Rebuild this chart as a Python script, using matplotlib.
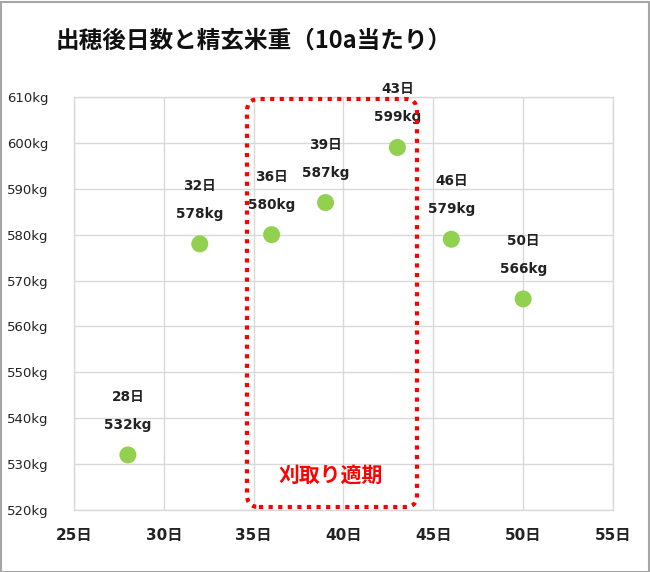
import matplotlib
matplotlib.use("Agg")
import matplotlib.pyplot as plt
from matplotlib.patches import FancyBboxPatch, Rectangle
from matplotlib.ticker import MultipleLocator, FuncFormatter

plt.rcParams['font.family'] = ['DejaVu Sans', 'Noto Sans CJK JP']

days = [28, 32, 36, 39, 43, 46, 50]
weights = [532, 578, 580, 587, 599, 579, 566]
title = "出穂後日数と精玄米重（10a当たり）"
box_label = "刈取り適期"

W, H = 650, 572
fig = plt.figure(figsize=(W / 100, H / 100), dpi=100)
ax = fig.add_axes([74 / W, 1 - 510 / H, (613 - 74) / W, (510 - 97) / H])

grid_c = '#D9D9D9'
ax.set_xlim(25, 55)
ax.set_ylim(520, 610)
ax.xaxis.set_major_locator(MultipleLocator(5))
ax.yaxis.set_major_locator(MultipleLocator(10))
ax.xaxis.set_major_formatter(FuncFormatter(lambda v, p: f"{int(v)}日"))
ax.yaxis.set_major_formatter(FuncFormatter(lambda v, p: f"{int(v)}kg"))
ax.grid(True, color=grid_c, linewidth=1)
ax.set_axisbelow(True)
for s in ax.spines.values():
    s.set_color(grid_c)
    s.set_linewidth(1)
ax.tick_params(axis='both', length=0)
ax.tick_params(axis='y', pad=18.5, labelsize=9.5, labelcolor='#222222')
ax.tick_params(axis='x', pad=13, labelsize=11, labelcolor='#222222')
for t in ax.get_xticklabels():
    t.set_fontweight('bold')

ax.scatter(days, weights, s=150, color='#92D050', zorder=3, edgecolors='none')

for d, w in zip(days, weights):
    ax.annotate(f"{w}kg", (d, w), xytext=(0, 30), textcoords='offset pixels',
                ha='center', va='center', fontsize=9.8, fontweight='bold',
                color='#222222')
    ax.annotate(f"{d}日", (d, w), xytext=(0, 58), textcoords='offset pixels',
                ha='center', va='center', fontsize=9.8, fontweight='bold',
                color='#222222')

# Optimal harvest period box (axes fraction coordinates)
aw, ah = 613 - 74, 510 - 97
x0 = (247 - 74) / aw
x1 = (417 - 74) / aw
y0 = (510 - 507) / ah
y1 = (510 - 99) / ah
rad = 12 / aw
box = FancyBboxPatch((x0 + rad, y0 + rad * aw / ah), (x1 - x0) - 2 * rad,
                     (y1 - y0) - 2 * rad * aw / ah,
                     boxstyle=f"round,pad={rad},rounding_size={rad}",
                     mutation_aspect=aw / ah,
                     transform=ax.transAxes, fill=False, edgecolor='#FF0000',
                     linewidth=3, linestyle=(0, (1, 1.3)), zorder=4, clip_on=False)
ax.add_patch(box)
ax.text((331 - 74) / aw, (510 - 475) / ah, box_label, transform=ax.transAxes,
        ha='center', va='center', color='#FF0000', fontsize=15, fontweight='bold',
        family=['Noto Sans CJK JP', 'DejaVu Sans'])

fig.text(254 / W, 1 - 41 / H, title, ha='center', va='center', fontsize=17,
         fontweight='bold', color='#111111', family=['Noto Sans CJK JP', 'DejaVu Sans'])

fig.patches.append(Rectangle((0.5 / W, 0.5 / H), 1 - 2 / W, 1 - 2.5 / H,
                             transform=fig.transFigure, fill=False,
                             edgecolor='#A6A6A6', linewidth=1.5))

fig.savefig("out.png", dpi=100)
